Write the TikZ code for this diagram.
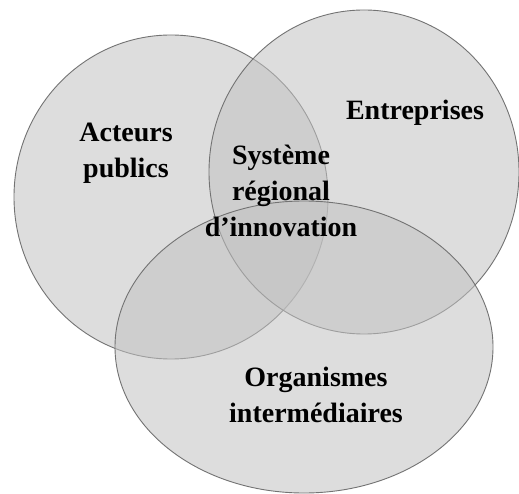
\documentclass[tikz,border=0pt]{standalone}
\usepackage{fontspec}
\setmainfont{Liberation Serif}
\begin{document}
\begin{tikzpicture}[x=1pt,y=-1pt,
  setfill/.style={fill=black!24,fill opacity=0.55,draw=black!55,draw opacity=1,line width=0.9pt},
  lbl/.style={font=\fontsize{28}{36}\selectfont\bfseries,align=center,text=black,inner sep=0pt}]
\useasboundingbox (0,0) rectangle (519,494);
\fill[white] (0,0) rectangle (519,494);
\path[setfill] (171,197) ellipse [x radius=157, y radius=162];
\path[setfill] (364,172) ellipse [x radius=155, y radius=162];
\path[setfill] (304,347) ellipse [x radius=189, y radius=146];
\node[lbl] (ap) at (126,153) {Acteurs\\publics};
\node[lbl] (en) at (415,113) {Entreprises};
\node[lbl] (sri) at (281,191) {Système\\régional\\d’innovation};
\node[lbl] (oi) at (316,395) {Organismes\\intermédiaires};
\end{tikzpicture}
\end{document}
